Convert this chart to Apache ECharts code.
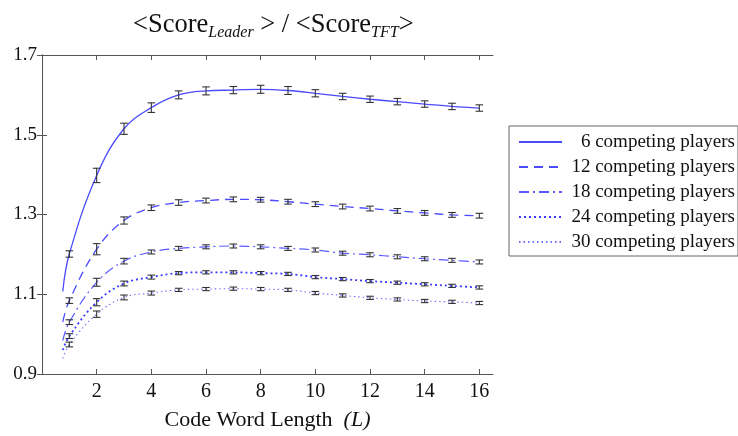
<!DOCTYPE html>
<html>
<head>
<meta charset="utf-8">
<script src="https://cdn.jsdelivr.net/npm/echarts@6/dist/echarts.min.js"></script>
<style>html,body{margin:0;padding:0;background:#fff}#c{width:738px;height:436px}</style>
</head>
<body>
<div id="c"></div>
<script>
// ---- data ----
const seriesNames = ['6 competing players','12 competing players','18 competing players','24 competing players','30 competing players'];
const L = [1,2,3,4,5,6,7,8,9,10,11,12,13,14,15,16];
const curveStartX = 0.76;
const curveStart = [1.107, 1.031, 0.984, 0.960, 0.939];
const p6  = [1.201,1.398,1.515,1.568,1.600,1.610,1.612,1.614,1.611,1.604,1.596,1.589,1.583,1.577,1.571,1.567];
const p12 = [1.084,1.213,1.285,1.317,1.330,1.335,1.338,1.337,1.332,1.326,1.320,1.315,1.309,1.304,1.299,1.297];
const p18 = [1.030,1.130,1.183,1.206,1.215,1.219,1.221,1.219,1.215,1.211,1.203,1.199,1.194,1.189,1.185,1.181];
const p24 = [0.995,1.080,1.127,1.143,1.153,1.155,1.155,1.153,1.151,1.143,1.138,1.133,1.129,1.125,1.121,1.117];
const p30 = [0.974,1.050,1.092,1.103,1.111,1.113,1.114,1.113,1.111,1.103,1.097,1.091,1.087,1.083,1.081,1.078];
const e6  = [0.008,0.018,0.014,0.012,0.010,0.010,0.009,0.010,0.010,0.009,0.008,0.008,0.008,0.008,0.008,0.008];
const e12 = [0.007,0.014,0.009,0.007,0.007,0.006,0.006,0.006,0.006,0.006,0.006,0.006,0.006,0.006,0.006,0.006];
const e18 = [0.006,0.010,0.007,0.005,0.005,0.005,0.005,0.005,0.005,0.005,0.005,0.005,0.005,0.005,0.005,0.005];
const e24 = [0.006,0.009,0.006,0.005,0.004,0.004,0.004,0.004,0.004,0.004,0.004,0.004,0.004,0.004,0.004,0.004];
const e30 = [0.006,0.008,0.006,0.005,0.004,0.004,0.004,0.004,0.004,0.004,0.004,0.004,0.004,0.004,0.004,0.004];
const xTicks = [2,4,6,8,10,12,14,16];
const yTicks = [0.9,1.1,1.3,1.5,1.7];

const values = [p6,p12,p18,p24,p30];
const errors = [e6,e12,e18,e24,e30];
const lineTypes = ['solid',[9,6],[10,4,2,4],[2,3],[1.5,3]];
const lineWidths = [1.3,1.3,1.2,1.8,1.1];
const lineColors = ['#4a4aff','#4a4aff','#5a5aff','#3a3aff','#7070ff'];

const serif = 'Liberation Serif, "DejaVu Serif", serif';
const chart = echarts.init(document.getElementById('c'), null, {renderer:'canvas'});

const lineSeries = values.map((v,i) => ({
  name: seriesNames[i], type:'line', smooth:0.4, symbol:'none',
  xAxisIndex:0, yAxisIndex:0,
  lineStyle:{color:lineColors[i], width:lineWidths[i], type:lineTypes[i]},
  itemStyle:{color:lineColors[i]},
  data: [[curveStartX, curveStart[i]]].concat(L.map((x,k)=>[x, v[k]])),
  z:2
}));

const errData = [];
values.forEach((v,i)=>L.forEach((x,k)=>errData.push([x, v[k], errors[i][k]])));

const errSeries = {
  type:'custom', xAxisIndex:0, yAxisIndex:0, z:3,
  data: errData,
  encode:{x:0, y:1},
  renderItem: function(params, api){
    const x = api.value(0), y = api.value(1), e = api.value(2);
    const t = api.coord([x, y+e]), b = api.coord([x, y-e]);
    const hw = 3.8;
    const st = {stroke:'#333', lineWidth:1.1, fill:null};
    return {type:'group', children:[
      {type:'line', shape:{x1:t[0], y1:t[1], x2:b[0], y2:b[1]}, style:st},
      {type:'line', shape:{x1:t[0]-hw, y1:t[1], x2:t[0]+hw, y2:t[1]}, style:st},
      {type:'line', shape:{x1:b[0]-hw, y1:b[1], x2:b[0]+hw, y2:b[1]}, style:st}
    ]};
  }
};

const axisLineStyle = {show:true, lineStyle:{color:'#555', width:1}};
chart.setOption({
  animation:false,
  backgroundColor:'#fff',
  title:{
    text:'{m|<Score}{s|Leader}{m| > / <Score}{s|TFT}{m|>}',
    left:128, top:5,
    textStyle:{fontWeight:'normal', rich:{
      m:{fontFamily:serif, fontSize:26.5, fontWeight:'normal', color:'#111', lineHeight:31},
      s:{fontFamily:serif, fontSize:16, fontWeight:'normal', fontStyle:'italic', color:'#111', padding:[15,0,0,0], lineHeight:31}
    }}
  },
  legend:{
    orient:'vertical', left:509, top:126, width:229,
    padding:[6,3,4,9], itemGap:5, itemWidth:43, itemHeight:14,
    borderColor:'#666', borderWidth:1, backgroundColor:'#fff',
    itemStyle:{opacity:0},
    data: seriesNames,
    formatter: n => '{t|' + n + '}',
    textStyle:{fontFamily:serif, fontSize:19, color:'#111', lineHeight:20,
      rich:{t:{fontFamily:serif, fontSize:19, color:'#111', width:168, align:'right', lineHeight:20}}}
  },
  grid:{left:42, right:245, top:55, bottom:48, containLabel:false},
  xAxis:[{
    type:'value', min:0, max:16.5, position:'bottom',
    axisLine:axisLineStyle,
    axisTick:{show:true, inside:true, length:5, lineStyle:{color:'#555'}, customValues:xTicks},
    axisLabel:{show:true, customValues:xTicks, fontFamily:serif, fontSize:20, color:'#111', margin:8},
    splitLine:{show:false},
    name:'Code Word Length  {i|(L)}', nameLocation:'middle', nameGap:35,
    nameTextStyle:{fontFamily:serif, fontSize:22, color:'#111',
      rich:{i:{fontFamily:serif, fontSize:22, fontStyle:'italic', color:'#111'}}}
  },{
    type:'value', min:0, max:16.5, position:'top',
    axisLine:axisLineStyle,
    axisTick:{show:true, inside:true, length:5, lineStyle:{color:'#555'}, customValues:xTicks},
    axisLabel:{show:false}, splitLine:{show:false}
  }],
  yAxis:[{
    type:'value', min:0.9, max:1.7, position:'left',
    axisLine:axisLineStyle,
    axisTick:{show:true, inside:true, length:5, lineStyle:{color:'#555'}, customValues:yTicks},
    axisLabel:{show:true, customValues:yTicks, formatter:v=>v.toFixed(1), fontFamily:serif, fontSize:19, color:'#111', margin:5},
    splitLine:{show:false}
  },{
    type:'value', min:0.9, max:1.7, position:'right',
    axisLine:axisLineStyle,
    axisTick:{show:true, inside:true, length:5, lineStyle:{color:'#555'}, customValues:yTicks},
    axisLabel:{show:false}, splitLine:{show:false}
  }],
  series: lineSeries.concat([errSeries])
});
</script>
</body>
</html>
